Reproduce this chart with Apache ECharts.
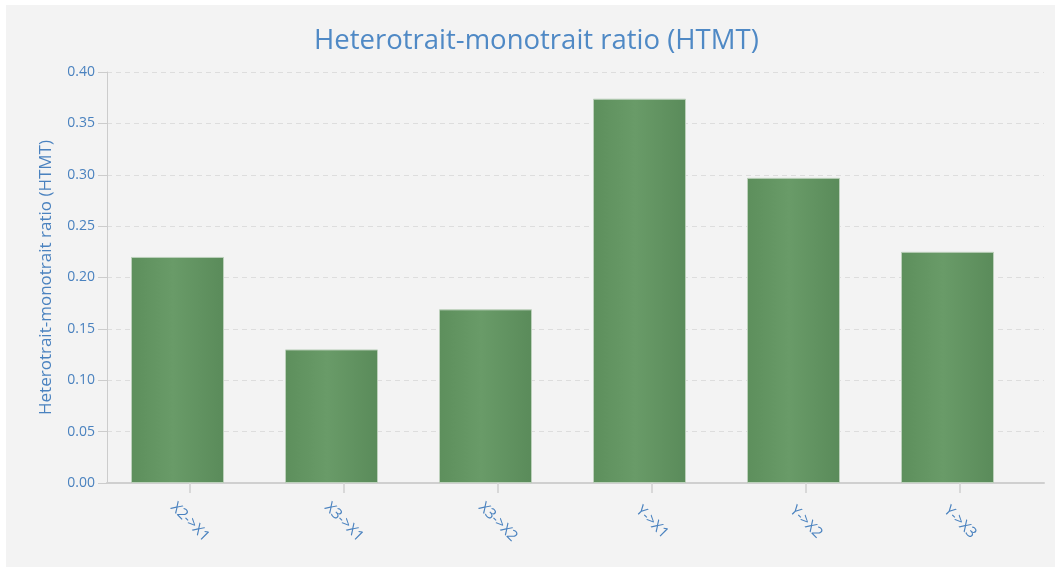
<!DOCTYPE html>
<html>
<head>
<meta charset="utf-8">
<script src="https://cdn.jsdelivr.net/npm/echarts@6/dist/echarts.min.js"></script>
<style>
  html, body { margin: 0; padding: 0; background: #ffffff; width: 1059px; height: 570px; overflow: hidden; }
  #chart { position: absolute; left: 6px; top: 5px; width: 1049px; height: 562px; background: #f3f3f3; }
</style>
</head>
<body>
<div id="chart"></div>
<script>
const categories = ['X2->X1', 'X3->X1', 'X3->X2', 'Y->X1', 'Y->X2', 'Y->X3'];
const htmtValues = [0.220, 0.130, 0.169, 0.374, 0.297, 0.225];
const yTicks = [0, 0.05, 0.10, 0.15, 0.20, 0.25, 0.30, 0.35, 0.40];
const titleText = 'Heterotrait-monotrait ratio (HTMT)';
const yAxisName = 'Heterotrait-monotrait ratio (HTMT)';

const FONT = '"Open Sans", "Noto Sans", sans-serif';
const LABEL_BLUE = '#4a82bf';
const tickOffset = 0.081;
const tickValues = categories.map((c, i) => i + tickOffset);

const chart = echarts.init(document.getElementById('chart'), null, { renderer: 'canvas' });
chart.setOption({
  backgroundColor: '#f3f3f3',
  animation: false,
  title: {
    text: titleText,
    left: 303,
    top: 17,
    textStyle: { fontFamily: FONT, fontSize: 27.5, fontWeight: 'normal', color: '#4f89c5' }
  },
  grid: { left: 101, right: 11, top: 67, bottom: 84, containLabel: false },
  xAxis: {
    type: 'value',
    min: -0.4578,
    max: 5.6266,
    splitLine: { show: false },
    axisLine: { show: true, onZero: false, lineStyle: { color: '#cfcfcf', width: 2 } },
    axisTick: { show: true, customValues: tickValues, length: 10, lineStyle: { color: '#d8d8d8', width: 2 } },
    axisLabel: {
      customValues: tickValues,
      formatter: v => categories[Math.round(v)] || '',
      rotate: -45,
      align: 'center',
      verticalAlign: 'middle',
      margin: 39,
      color: LABEL_BLUE,
      fontFamily: FONT,
      fontSize: 15
    }
  },
  yAxis: {
    type: 'value',
    min: yTicks[0],
    max: yTicks[yTicks.length - 1],
    interval: 0.05,
    name: yAxisName,
    nameLocation: 'middle',
    nameGap: 52,
    nameTextStyle: { fontFamily: FONT, fontSize: 17, color: LABEL_BLUE },
    axisLine: { show: true, onZero: false, lineStyle: { color: '#cccccc', width: 1 } },
    axisTick: { show: true, length: 9, lineStyle: { color: '#cccccc' } },
    axisLabel: {
      formatter: v => v.toFixed(2),
      margin: 12,
      color: LABEL_BLUE,
      fontFamily: FONT,
      fontSize: 14
    },
    splitLine: { show: true, lineStyle: { color: '#dddddd', type: [5, 4], width: 1 } }
  },
  series: [{
    type: 'bar',
    barWidth: 93,
    data: htmtValues.map((v, i) => [i, v]),
    itemStyle: {
      color: new echarts.graphic.LinearGradient(0, 0, 1, 0, [
        { offset: 0, color: '#5d8f5c' },
        { offset: 0.45, color: '#699b68' },
        { offset: 1, color: '#5a8b5a' }
      ]),
      borderColor: '#bcd0bb',
      borderWidth: 1
    }
  }]
});
</script>
</body>
</html>
